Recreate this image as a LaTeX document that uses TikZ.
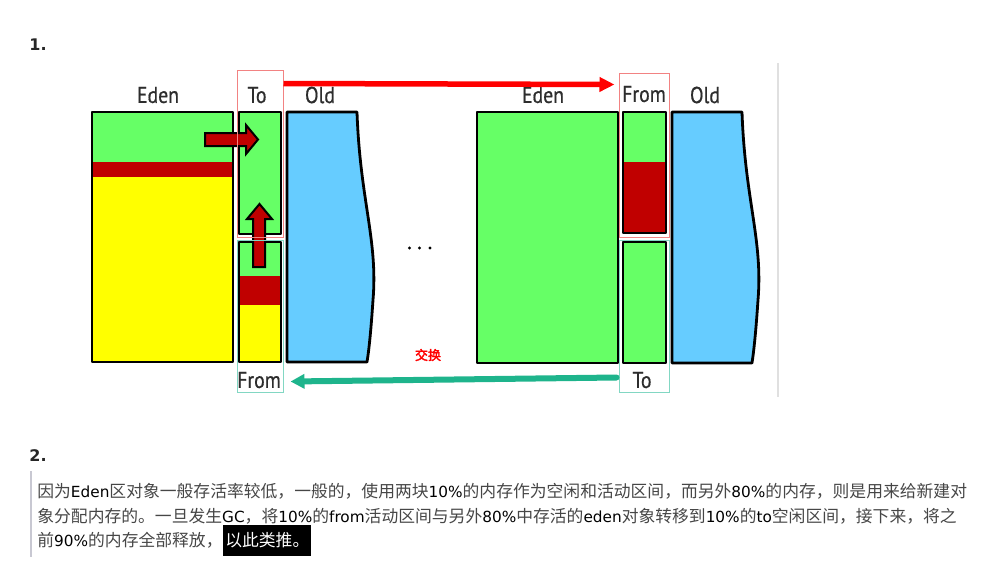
\documentclass[tikz,border=0pt]{standalone}
\usepackage{fontspec}
\newfontfamily\cjk{Noto Sans CJK SC}
\newfontfamily\cjkheavy[FakeBold=2.5]{Noto Sans CJK SC}
\newfontfamily\latfont{DejaVu Sans}
\newfontfamily\lblfont[FakeStretch=0.86,FakeBold=0.6]{PT Sans}
\usetikzlibrary{arrows.meta,positioning}

\definecolor{genGreen}{RGB}{102,255,102}
\definecolor{genRed}{RGB}{192,0,0}
\definecolor{genYellow}{RGB}{255,255,0}
\definecolor{genBlue}{RGB}{102,204,255}
\definecolor{frameRed}{RGB}{242,130,130}
\definecolor{frameTeal}{RGB}{130,215,195}
\definecolor{swapTeal}{RGB}{30,180,140}
\definecolor{textGrey}{RGB}{70,70,70}
\definecolor{labelGrey}{RGB}{45,45,45}
\definecolor{barGrey}{RGB}{200,200,210}

\newcommand{\en}[1]{{\color{black}\latfont\fontsize{15.3}{18}\selectfont #1}}

\tikzset{every picture/.style={line width=0.75pt}}
\tikzset{
  box/.style={draw=black, line width=2.8pt, line join=round},
  blockarrow/.style={draw=black, fill=genRed, line width=2pt, line join=miter},
  areaLabel/.style={font=\lblfont\fontsize{23}{25}\selectfont, text=labelGrey, inner sep=0pt},
  redframe/.style={draw=frameRed, line width=1pt, inner sep=0pt},
  tealframe/.style={draw=frameTeal, line width=1pt, inner sep=0pt},
  para/.style={anchor=west, inner sep=0pt, text=textGrey, font=\cjk\fontsize{16.8}{20}\selectfont},
  heading/.style={anchor=west, inner sep=0pt, text=black!85, font=\latfont\bfseries\fontsize{16}{19}\selectfont}
}

\begin{document}
\begin{tikzpicture}[x=1pt,y=1pt,yscale=-1,xscale=1]
\useasboundingbox (0,0) rectangle (1004,587);

% Heading
\node[heading] (head1) at (29,45) {1.};

%Eden (before)
\fill[genYellow] (92,112) rectangle (233,362);
\fill[genGreen] (92,112) rectangle (233,162);
\fill[genRed] (92,162) rectangle (233,177);
\draw[box] (92,112) rectangle (233,362);
%Survivor To (before)
\fill[genGreen] (239,112) rectangle (281,234);
\draw[box] (239,112) rectangle (281,234);
%Survivor From (before)
\fill[genYellow] (239,242) rectangle (281,362);
\fill[genGreen] (239,242) rectangle (281,276);
\fill[genRed] (239,276) rectangle (281,305);
\draw[box] (239,242) rectangle (281,362);
%Old (before)
\filldraw[box, fill=genBlue] (287,362) -- (287,112) -- (357,112) .. controls (360,200) and (378,240) .. (373,300) .. controls (371,330) and (369,350) .. (367,362) -- cycle;

%Block arrows
\draw[blockarrow] (205,133) -- (246,133) -- (246,125) -- (258,139.5) -- (246,154) -- (246,146) -- (205,146) -- cycle;
\draw[blockarrow] (253,267) -- (253,219) -- (247,219) -- (259.5,204) -- (272,219) -- (265,219) -- (265,267) -- cycle;

%Eden (after)
\fill[genGreen] (477,112) rectangle (618,363);
\draw[box] (477,112) rectangle (618,363);
%Survivor From (after)
\fill[genRed] (623,112) rectangle (666,233);
\fill[genGreen] (623,112) rectangle (666,162);
\draw[box] (623,112) rectangle (666,233);
%Survivor To (after)
\fill[genGreen] (623,242) rectangle (666,363);
\draw[box] (623,242) rectangle (666,363);
%Old (after)
\filldraw[box, fill=genBlue] (672,363) -- (672,112) -- (742,112) .. controls (745,200) and (763,240) .. (758,300) .. controls (756,330) and (754,350) .. (752,363) -- cycle;

% Frames
\node[redframe, minimum width=46pt, minimum height=167pt] (toframe1) at (260,153.5) {};
\node[tealframe, minimum width=46pt, minimum height=152pt] (fromframe1) at (260,316) {};
\node[redframe, minimum width=50pt, minimum height=164pt] (fromframe2) at (644,155) {};
\node[tealframe, minimum width=50pt, minimum height=152pt] (toframe2) at (644,316) {};

% Text Node
\node[areaLabel] (eden1L) at (158,95) {Eden};
\node[areaLabel] (to1L) at (257,95) {To};
\node[areaLabel] (old1L) at (320,95) {Old};
\node[areaLabel] (from1L) at (259,380) {From};
\node[areaLabel] (eden2L) at (543,95) {Eden};
\node[areaLabel] (from2L) at (644,94) {From};
\node[areaLabel] (old2L) at (705,95) {Old};
\node[areaLabel] (to2L) at (642,380) {To};

% Swap arrows
\draw[red, line width=5.5pt, -{Triangle[length=15pt,width=14pt]}] ([yshift=14pt]toframe1.north east) -- ([xshift=-4pt,yshift=12pt]fromframe2.north west);
\draw[swapTeal, line width=6pt, line cap=round, -{Triangle[length=14pt,width=14pt]}] ([xshift=-2pt,yshift=-15pt]toframe2.south west) -- ([xshift=7pt,yshift=-11pt]fromframe1.south east);

% Dots
\fill (409.5,248) circle [radius=1.7pt];
\fill (419.5,248) circle [radius=1.7pt];
\fill (430,248) circle [radius=1.7pt];
\node[text=red, inner sep=0pt, font=\cjkheavy\fontsize{13}{15}\selectfont] (swapL) at (428,355) {交换};

% Divider
\draw[black!12, line width=1.5pt] (778,63) -- (778,397);

% Heading 2 and text
\node[heading] (head2) at (29,456) {2.};
\draw[barGrey, line width=2pt] (31,471) -- (31,557);
\node[para] (line1) at (37,491) {因为\en{Eden}区对象一般存活率较低，一般的，使用两块\en{10\%}的内存作为空闲和活动区间，而另外\en{80\%}的内存，则是用来给新建对};
\node[para] (line2) at (37,516) {象分配内存的。一旦发生\en{GC}，将\en{10\%}的\en{from}活动区间与另外\en{80\%}中存活的\en{eden}对象转移到\en{10\%}的\en{to}空闲区间，接下来，将之};
\node[para] (line3) at (37,540) {前\en{90\%}的内存全部释放，};
\node[para, fill=black, text=white, inner xsep=2pt, minimum height=31pt, right=0pt of line3] (hilite) {以此类推。};

\end{tikzpicture}
\end{document}
